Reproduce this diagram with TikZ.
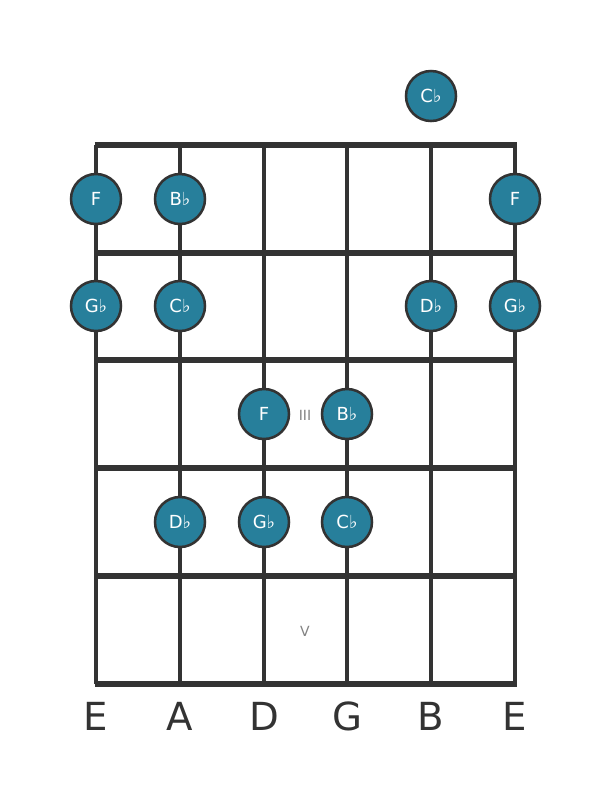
\documentclass[tikz,border=0pt]{standalone}
\usepackage{fontspec}
\setmainfont{DejaVu Sans}
\definecolor{notefill}{RGB}{39,127,155}
\definecolor{linec}{RGB}{51,51,51}
\definecolor{markc}{RGB}{130,130,130}
\begin{document}
\begin{tikzpicture}[x=0.75pt,y=-0.75pt,
  fret/.style={draw=linec,line width=3.8pt},
  string/.style={draw=linec,line width=2.3pt},
  note/.style={circle,fill=notefill,draw=linec,line width=1.9pt,minimum size=37.5pt,inner sep=0pt,text=white,font=\fontsize{13.5}{14}\selectfont},
  fretmark/.style={text=markc,font=\fontsize{10.5}{11}\selectfont},
  slabel/.style={text=linec,font=\fontsize{29}{30}\selectfont}]
\useasboundingbox (0,0) rectangle (611,801);
\foreach \s/\x in {1/96,2/180,3/264,4/347,5/431,6/515}{
  \coordinate (st\s) at (\x,145);
  \coordinate (sb\s) at (\x,684);
  \draw[string] (st\s) -- (sb\s);
}
\foreach \f/\y in {0/145,1/253,2/360,3/468,4/576,5/684}{
  \coordinate (fl\f) at (94.5,\y);
  \coordinate (fr\f) at (516.5,\y);
  \draw[fret] (fl\f) -- (fr\f);
}
\node[note] (n0) at (431,96) {C♭};
\node[note] (n1) at (96,199) {F};
\node[note] (n2) at (180,199) {B♭};
\node[note] (n3) at (515,199) {F};
\node[note] (n4) at (96,306) {G♭};
\node[note] (n5) at (180,306) {C♭};
\node[note] (n6) at (431,306) {D♭};
\node[note] (n7) at (515,306) {G♭};
\node[note] (n8) at (264,414) {F};
\node[note] (n9) at (347,414) {B♭};
\node[note] (n10) at (180,522) {D♭};
\node[note] (n11) at (264,522) {G♭};
\node[note] (n12) at (347,522) {C♭};
\node[fretmark] (m3) at (305,415) {III};
\node[fretmark] (m5) at (305,631) {V};
\foreach \s/\x/\l in {1/96/E,2/180/A,3/264/D,4/347/G,5/431/B,6/515/E}{
  \node[slabel] (lab\s) at (\x,716) {\l};
}
\end{tikzpicture}
\end{document}
